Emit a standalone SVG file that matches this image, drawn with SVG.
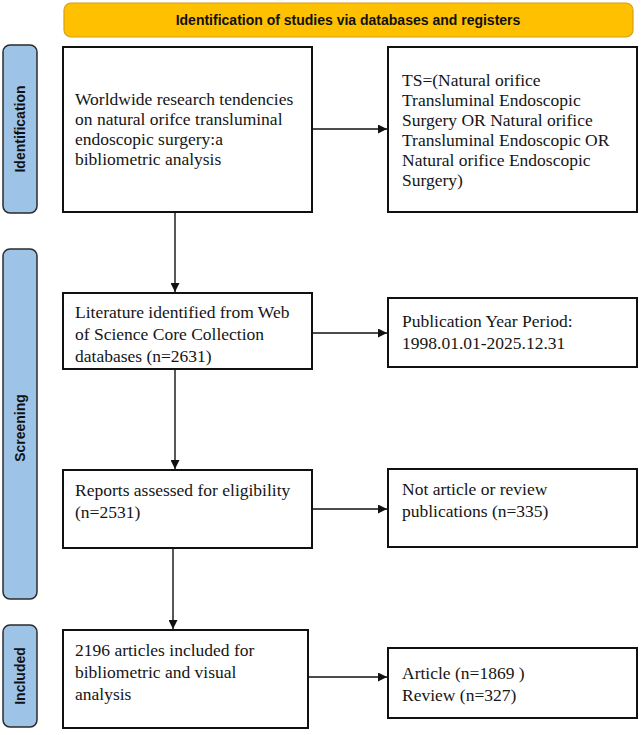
<svg xmlns="http://www.w3.org/2000/svg" width="642" height="735" viewBox="0 0 642 735">
<defs>
<marker id="ah" viewBox="0 0 10 10" refX="10" refY="5" markerWidth="9" markerHeight="9" markerUnits="userSpaceOnUse" orient="auto">
<path d="M0,0 L10,5 L0,10 z" fill="#111"/>
</marker>
<style>
.box{fill:#fff;stroke:#111;stroke-width:2}
.side{fill:#9DC3E6;stroke:#2b2b2b;stroke-width:1.5}
.banner{fill:#FFC000;stroke:#D4A017;stroke-width:1.2}
.t{font-family:"Liberation Serif","Times New Roman",serif;font-size:17.5px;fill:#151515}
.st{font-family:"Liberation Sans",Arial,sans-serif;font-size:14px;font-weight:bold;fill:#111}
.conn{stroke:#111;stroke-width:1.4;fill:none;marker-end:url(#ah)}
</style>
</defs>
<g id="banner">
<rect class="banner" x="64" y="3" width="569" height="34" rx="7"/>
<text class="st" x="348" y="25" text-anchor="middle" font-size="15">Identification of studies via databases and registers</text>
</g>
<g id="phase-identification">
<rect class="side" x="3" y="45" width="34" height="168" rx="7"/>
<text class="st" transform="translate(25,129) rotate(-90)" text-anchor="middle">Identification</text>
</g>
<g id="phase-screening">
<rect class="side" x="3" y="249" width="34" height="350" rx="7"/>
<text class="st" transform="translate(25,428) rotate(-90)" text-anchor="middle">Screening</text>
</g>
<g id="phase-included">
<rect class="side" x="3" y="625" width="34" height="102" rx="7"/>
<text class="st" transform="translate(25,676) rotate(-90)" text-anchor="middle">Included</text>
</g>
<g id="n1">
<rect class="box" x="63" y="47" width="249" height="165"/>
<text class="t"><tspan x="75" y="105">Worldwide research tendencies</tspan><tspan x="75" y="125">on natural orifce transluminal</tspan><tspan x="75" y="145">endoscopic surgery:a</tspan><tspan x="75" y="165">bibliometric analysis</tspan></text>
</g>
<g id="n2">
<rect class="box" x="388" y="47" width="249" height="165"/>
<text class="t"><tspan x="402" y="86">TS=(Natural orifice</tspan><tspan x="402" y="106">Transluminal Endoscopic</tspan><tspan x="402" y="126">Surgery OR Natural orifice</tspan><tspan x="402" y="146">Transluminal Endoscopic OR</tspan><tspan x="402" y="166">Natural orifice Endoscopic</tspan><tspan x="402" y="186">Surgery)</tspan></text>
</g>
<g id="n3">
<rect class="box" x="63" y="293" width="249" height="76"/>
<text class="t"><tspan x="75" y="318">Literature identified from Web</tspan><tspan x="75" y="340">of Science Core Collection</tspan><tspan x="75" y="362">databases (n=2631)</tspan></text>
</g>
<g id="n4">
<rect class="box" x="388" y="298" width="249" height="69"/>
<text class="t"><tspan x="402" y="327">Publication Year Period:</tspan><tspan x="402" y="349">1998.01.01-2025.12.31</tspan></text>
</g>
<g id="n5">
<rect class="box" x="63" y="470" width="249" height="78"/>
<text class="t"><tspan x="75" y="496">Reports assessed for eligibility</tspan><tspan x="75" y="518">(n=2531)</tspan></text>
</g>
<g id="n6">
<rect class="box" x="388" y="469" width="249" height="78"/>
<text class="t"><tspan x="402" y="495">Not article or review</tspan><tspan x="402" y="517">publications (n=335)</tspan></text>
</g>
<g id="n7">
<rect class="box" x="63" y="630" width="245" height="98"/>
<text class="t"><tspan x="75" y="656">2196 articles included for</tspan><tspan x="75" y="678">bibliometric and visual</tspan><tspan x="75" y="700">analysis</tspan></text>
</g>
<g id="n8">
<rect class="box" x="388" y="648" width="249" height="70"/>
<text class="t"><tspan x="402" y="679">Article (n=1869 )</tspan><tspan x="402" y="701">Review (n=327)</tspan></text>
</g>
<g id="connectors">
<line class="conn" x1="312" y1="129" x2="387" y2="129"/>
<line class="conn" x1="175" y1="212" x2="175" y2="292"/>
<line class="conn" x1="312" y1="333" x2="387" y2="333"/>
<line class="conn" x1="175" y1="369" x2="175" y2="469"/>
<line class="conn" x1="312" y1="509" x2="387" y2="509"/>
<line class="conn" x1="173" y1="548" x2="173" y2="629"/>
<line class="conn" x1="308" y1="677" x2="387" y2="677"/>
</g>
</svg>
